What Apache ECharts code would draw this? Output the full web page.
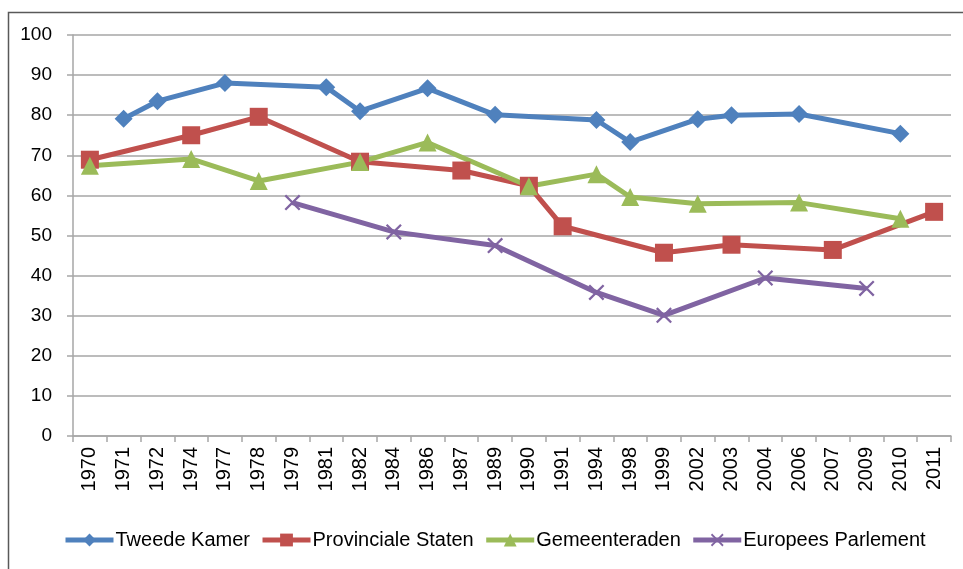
<!DOCTYPE html>
<html>
<head>
<meta charset="utf-8">
<script src="https://cdn.jsdelivr.net/npm/echarts@6/dist/echarts.min.js"></script>
<style>
html,body{margin:0;padding:0;background:#fff;}
#chart{width:963px;height:569px;}
</style>
</head>
<body>
<div id="chart"></div>
<script>
var categories = ['1970','1971','1972','1974','1977','1978','1979','1981','1982','1984','1986','1987','1989','1990','1991','1994','1998','1999','2002','2003','2004','2006','2007','2009','2010','2011'];
var tweedeKamer = [null,79.1,83.5,null,88.0,null,null,87.0,81.0,null,86.7,null,80.1,null,null,78.8,73.3,null,79.0,80.0,null,80.3,null,null,75.4,null];
var provincialeStaten = [68.9,null,null,75.0,null,79.6,null,null,68.4,null,null,66.2,null,62.4,52.3,null,null,45.7,null,47.7,null,null,46.4,null,null,55.9];
var gemeenteraden = [67.4,null,null,69.1,null,63.6,null,null,68.3,null,73.2,null,null,62.3,null,65.3,59.6,null,57.9,null,null,58.2,null,null,54.2,null];
var europeesParlement = [null,null,null,null,null,null,58.2,null,null,50.9,null,null,47.5,null,null,35.8,null,30.1,null,null,39.4,null,null,36.8,null,null];
var seriesNames = ['Tweede Kamer','Provinciale Staten','Gemeenteraden','Europees Parlement'];
var yTicks = {min:0, max:100, interval:10};

var FONT = "'Liberation Sans', Arial, sans-serif";
var crossPath = 'path://M0,1 L1,0 L5,4 L9,0 L10,1 L6,5 L10,9 L9,10 L5,6 L1,10 L0,9 L4,5 Z';

function mkSeries(name, data, color, symbol, size){
  return {
    name: name, type: 'line', data: data, connectNulls: true,
    symbol: symbol, symbolSize: size, showAllSymbol: true,
    lineStyle: {color: color, width: 5},
    itemStyle: {color: color},
    emphasis: {disabled: true},
    animation: false
  };
}

var chart = echarts.init(document.getElementById('chart'), null, {renderer:'canvas'});
chart.setOption({
  backgroundColor: '#fff',
  animation: false,
  textStyle: {fontFamily: FONT, color: '#000'},
  graphic: [{
    type: 'rect', left: 6, top: 10,
    shape: {width: 1100, height: 700},
    style: {fill: null, stroke: '#595959', lineWidth: 1.5},
    silent: true, z: -1
  }],
  grid: {left: 73, right: 12, top: 35, bottom: 133, containLabel: false},
  xAxis: {
    type: 'category', data: categories, boundaryGap: true,
    axisLine: {lineStyle: {color: '#a6a6a6', width: 1.5}},
    axisTick: {show: true, length: 6, lineStyle: {color: '#a6a6a6', width: 1.5}},
    axisLabel: {rotate: 90, interval: 0, fontSize: 20, color: '#000', margin: 11, fontFamily: FONT}
  },
  yAxis: {
    type: 'value', min: yTicks.min, max: yTicks.max, interval: yTicks.interval,
    axisLine: {show: true, lineStyle: {color: '#a6a6a6', width: 1.5}},
    axisTick: {show: true, length: 6, lineStyle: {color: '#a6a6a6', width: 1.5}},
    splitLine: {show: true, lineStyle: {color: '#a6a6a6', width: 1.5}},
    axisLabel: {fontSize: 19, color: '#000', margin: 21, fontFamily: FONT}
  },
  legend: {
    data: seriesNames,
    left: 58, top: 525,
    itemWidth: 48, itemHeight: 16, itemGap: 10,
    lineStyle: {width: 5},
    textStyle: {fontSize: 20, color: '#000', fontFamily: FONT, padding: [0,0,0,-3]}
  },
  series: [
    mkSeries(seriesNames[0], tweedeKamer, '#4F81BD', 'diamond', 18),
    mkSeries(seriesNames[1], provincialeStaten, '#C0504D', 'rect', 18),
    mkSeries(seriesNames[2], gemeenteraden, '#9BBB59', 'triangle', 18),
    mkSeries(seriesNames[3], europeesParlement, '#8064A2', crossPath, 16)
  ]
});
</script>
</body>
</html>
